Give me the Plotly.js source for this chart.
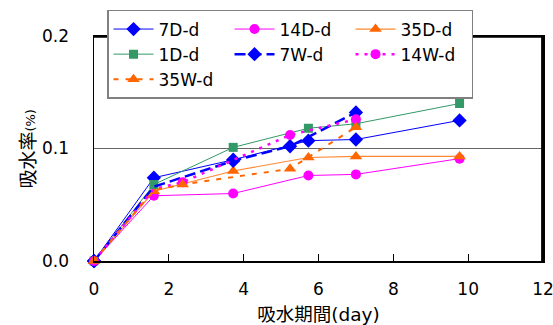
<!DOCTYPE html>
<html>
<head>
<meta charset="utf-8">
<script src="https://cdn.plot.ly/plotly-3.0.1.min.js"></script>
<style>
  html, body { margin: 0; padding: 0; background: #fff; overflow: hidden; }
  #chart { width: 553px; height: 325px; }
</style>
</head>
<body>
<div id="chart"></div>
<script>
// Days (x) for the D series and the W series
const daysD = [0, 1.6, 3.72, 5.73, 7.0, 9.77];
const days7W = [0, 1.6, 3.72, 5.24, 7.0];
const daysW = [0, 1.6, 2.37, 5.24, 7.0];

// Water absorption rate (%)
const d7D  = [0, 0.074, 0.090, 0.107, 0.108, 0.125];
const d14D = [0, 0.058, 0.060, 0.076, 0.077, 0.091];
const d35D = [0, 0.062, 0.080, 0.092, 0.093, 0.093];
const d1D  = [0, 0.068, 0.101, 0.118, 0.122, 0.140];
const d7W  = [0, 0.066, 0.089, 0.102, 0.132];
const d14W = [0, 0.064, 0.070, 0.112, 0.126];
const d35W = [0, 0.063, 0.068, 0.082, 0.119];

const names = ['7D-d', '14D-d', '35D-d', '1D-d', '7W-d', '14W-d', '35W-d'];
const yTickVals = [0, 0.1, 0.2];
const xTickVals = [0, 2, 4, 6, 8, 10, 12];

const BLUE = '#0000FF', MAG = '#FF00FF', ORG = '#FF6600', GRN = '#339966';
const FONT = 'DejaVu Sans, Noto Sans CJK JP, sans-serif';

// W series: no visible marker at the second point (hidden in the reference)
function wColors(xs, c) { return xs.map((v, i) => (i === 1 ? 'rgba(0,0,0,0)' : c)); }

const traces = [
  { x: daysD, y: d7D, name: names[0], mode: 'lines+markers',
    line: { color: BLUE, width: 1 }, marker: { symbol: 'diamond', size: 11, color: BLUE } },
  { x: daysD, y: d14D, name: names[1], mode: 'lines+markers',
    line: { color: MAG, width: 1 }, marker: { symbol: 'circle', size: 10, color: MAG } },
  { x: daysD, y: d35D, name: names[2], mode: 'lines+markers',
    line: { color: '#FF8833', width: 1.2 }, marker: { symbol: 'triangle-up', size: 11, color: ORG } },
  { x: daysD, y: d1D, name: names[3], mode: 'lines+markers',
    line: { color: GRN, width: 1 }, marker: { symbol: 'square', size: 9, color: GRN } },
  { x: days7W, y: d7W, name: names[4], mode: 'lines+markers',
    line: { color: BLUE, width: 2.5, dash: '11px,5px' },
    marker: { symbol: 'diamond', size: 11, color: wColors(days7W, BLUE) } },
  { x: daysW, y: d14W, name: names[5], mode: 'lines+markers',
    line: { color: MAG, width: 2.5, dash: '3px,6px' },
    marker: { symbol: 'circle', size: 10, color: wColors(daysW, MAG) } },
  { x: daysW, y: d35W, name: names[6], mode: 'lines+markers',
    line: { color: ORG, width: 2, dash: '5px,7px' },
    marker: { symbol: 'triangle-up', size: 11, color: wColors(daysW, ORG) } }
];
traces.forEach(t => { t.cliponaxis = false; });

const layout = {
  width: 553, height: 325,
  margin: { l: 94, r: 10, t: 36, b: 64, pad: 0 },
  paper_bgcolor: '#fff', plot_bgcolor: '#fff',
  font: { family: FONT, size: 17, color: '#000' },
  showlegend: true,
  legend: {
    orientation: 'h', x: 0.029, y: 1.1156, xanchor: 'left', yanchor: 'top',
    bgcolor: '#fff', bordercolor: '#808080', borderwidth: 1.5,
    entrywidth: 66, entrywidthmode: 'pixels', itemwidth: 40,
    font: { family: FONT, size: 17, color: '#000' }, traceorder: 'normal'
  },
  shapes: [
    { type: 'line', xref: 'paper', yref: 'paper', x0: 0.998, x1: 0.998, y0: 0, y1: 1,
      line: { color: '#000', width: 2 }, layer: 'above' },
    { type: 'line', xref: 'paper', yref: 'paper', x0: 0, x1: 1, y0: 0.997, y1: 0.997,
      line: { color: '#000', width: 2 }, layer: 'above' }
  ],
  annotations: [
    { text: '吸水率<span style="font-size:13px">(%)</span>', xref: 'paper', yref: 'paper',
      x: -0.149, y: 0.5, xanchor: 'center', yanchor: 'middle', textangle: -90,
      showarrow: false, font: { family: FONT, size: 19, color: '#000' } }
  ],
  xaxis: {
    range: [0, 12], tickvals: xTickVals, ticktext: xTickVals.map(String),
    ticks: 'inside', ticklen: 7, tickwidth: 1, tickcolor: '#000',
    showline: true, linecolor: '#000', linewidth: 1.5, mirror: true,
    showgrid: false, zeroline: false, ticklabelstandoff: 12, ticklabeloverflow: 'allow',
    tickfont: { family: FONT, size: 17 },
    title: { text: '吸水期間(day)', font: { family: FONT, size: 18.5 }, standoff: 10 }
  },
  yaxis: {
    range: [0, 0.2], tickvals: yTickVals, ticktext: yTickVals.map(v => v.toFixed(1)),
    ticks: '', showline: true, linecolor: '#000', linewidth: 1.5, mirror: true,
    showgrid: true, gridcolor: '#666', gridwidth: 1, zeroline: false,
    ticklabelstandoff: 20, ticklabeloverflow: 'allow',
    tickfont: { family: FONT, size: 17 }
  }
};

Plotly.newPlot('chart', traces, layout, { staticPlot: true, displayModeBar: false });
</script>
</body>
</html>
